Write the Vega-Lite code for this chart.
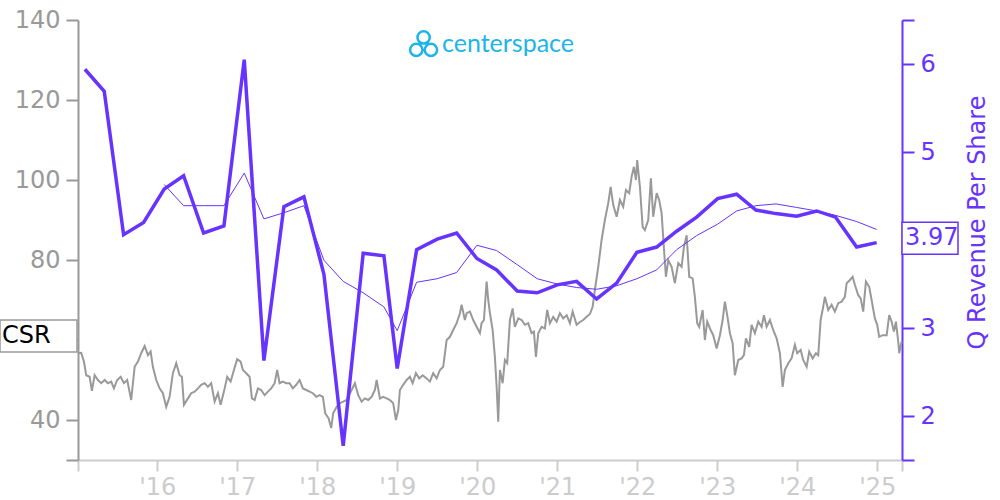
{
  "$schema": "https://vega.github.io/schema/vega-lite/v6.json",
  "width": 824,
  "height": 440,
  "autosize": {"type": "none"},
  "padding": {"left": 78, "top": 20, "right": 98, "bottom": 40},
  "config": {"view": {"stroke": null}, "font": "DejaVu Sans"},
  "datasets": {
    "price": [
      {"t":2015.009,"p":56.7},{"t":2015.050,"p":56.8},{"t":2015.084,"p":54.6},{"t":2015.113,"p":51.2},{"t":2015.155,"p":50.8},{"t":2015.184,"p":47.3},{"t":2015.218,"p":51.2},{"t":2015.259,"p":50.0},{"t":2015.300,"p":49.2},{"t":2015.343,"p":50.0},{"t":2015.384,"p":49.2},{"t":2015.425,"p":49.6},{"t":2015.459,"p":47.9},{"t":2015.500,"p":50.0},{"t":2015.543,"p":50.8},{"t":2015.584,"p":49.2},{"t":2015.625,"p":50.0},{"t":2015.675,"p":45.0},{"t":2015.718,"p":53.3},{"t":2015.759,"p":54.6},{"t":2015.800,"p":56.7},{"t":2015.843,"p":58.5},{"t":2015.884,"p":56.2},{"t":2015.918,"p":57.1},{"t":2015.946,"p":53.3},{"t":2015.988,"p":50.0},
      {"t":2016.030,"p":47.9},{"t":2016.071,"p":46.7},{"t":2016.113,"p":43.3},{"t":2016.155,"p":45.8},{"t":2016.196,"p":51.7},{"t":2016.238,"p":54.2},{"t":2016.280,"p":51.2},{"t":2016.309,"p":50.8},{"t":2016.334,"p":43.8},{"t":2016.384,"p":45.4},{"t":2016.425,"p":46.7},{"t":2016.468,"p":47.1},{"t":2016.509,"p":47.9},{"t":2016.550,"p":48.8},{"t":2016.593,"p":49.2},{"t":2016.634,"p":48.3},{"t":2016.675,"p":49.2},{"t":2016.718,"p":44.6},{"t":2016.759,"p":46.7},{"t":2016.793,"p":43.8},{"t":2016.834,"p":47.1},{"t":2016.875,"p":50.8},{"t":2016.918,"p":49.6},{"t":2016.959,"p":52.5},
      {"t":2017.000,"p":55.2},{"t":2017.043,"p":54.6},{"t":2017.071,"p":52.5},{"t":2017.113,"p":51.7},{"t":2017.155,"p":50.8},{"t":2017.184,"p":45.4},{"t":2017.218,"p":45.0},{"t":2017.259,"p":47.9},{"t":2017.300,"p":47.5},{"t":2017.343,"p":46.2},{"t":2017.384,"p":47.1},{"t":2017.425,"p":47.9},{"t":2017.468,"p":49.2},{"t":2017.500,"p":52.5},{"t":2017.530,"p":49.2},{"t":2017.571,"p":49.6},{"t":2017.613,"p":49.2},{"t":2017.655,"p":49.2},{"t":2017.696,"p":47.9},{"t":2017.738,"p":48.8},{"t":2017.780,"p":50.0},{"t":2017.821,"p":47.9},{"t":2017.863,"p":47.5},{"t":2017.905,"p":47.1},{"t":2017.946,"p":46.7},{"t":2017.988,"p":45.8},
      {"t":2018.030,"p":46.2},{"t":2018.071,"p":45.8},{"t":2018.100,"p":41.7},{"t":2018.143,"p":40.4},{"t":2018.175,"p":38.0},{"t":2018.200,"p":41.7},{"t":2018.243,"p":43.3},{"t":2018.284,"p":44.2},{"t":2018.325,"p":44.6},{"t":2018.368,"p":45.0},{"t":2018.409,"p":46.7},{"t":2018.450,"p":48.3},{"t":2018.471,"p":49.2},{"t":2018.513,"p":46.2},{"t":2018.555,"p":44.6},{"t":2018.596,"p":45.4},{"t":2018.638,"p":45.0},{"t":2018.680,"p":45.8},{"t":2018.721,"p":47.5},{"t":2018.743,"p":50.0},{"t":2018.784,"p":45.4},{"t":2018.825,"p":45.8},{"t":2018.868,"p":45.4},{"t":2018.909,"p":45.0},{"t":2018.950,"p":44.2},{"t":2018.984,"p":40.0},
      {"t":2019.013,"p":42.5},{"t":2019.034,"p":47.5},{"t":2019.075,"p":48.8},{"t":2019.118,"p":50.0},{"t":2019.159,"p":50.8},{"t":2019.193,"p":49.2},{"t":2019.234,"p":51.7},{"t":2019.275,"p":50.4},{"t":2019.318,"p":51.2},{"t":2019.368,"p":50.4},{"t":2019.409,"p":49.6},{"t":2019.450,"p":51.7},{"t":2019.493,"p":50.4},{"t":2019.534,"p":52.5},{"t":2019.575,"p":53.3},{"t":2019.618,"p":60.0},{"t":2019.659,"p":60.8},{"t":2019.700,"p":62.5},{"t":2019.743,"p":64.2},{"t":2019.784,"p":66.7},{"t":2019.805,"p":68.8},{"t":2019.846,"p":65.0},{"t":2019.868,"p":66.7},{"t":2019.909,"p":67.1},{"t":2019.950,"p":65.0},{"t":2019.993,"p":63.3},
      {"t":2020.034,"p":61.7},{"t":2020.055,"p":64.2},{"t":2020.084,"p":65.0},{"t":2020.118,"p":74.6},{"t":2020.138,"p":70.0},{"t":2020.159,"p":66.7},{"t":2020.193,"p":62.5},{"t":2020.221,"p":55.8},{"t":2020.243,"p":48.3},{"t":2020.263,"p":39.6},{"t":2020.284,"p":52.5},{"t":2020.318,"p":49.2},{"t":2020.346,"p":55.0},{"t":2020.375,"p":54.2},{"t":2020.409,"p":65.0},{"t":2020.443,"p":67.9},{"t":2020.471,"p":63.3},{"t":2020.513,"p":65.4},{"t":2020.555,"p":65.0},{"t":2020.596,"p":63.8},{"t":2020.638,"p":64.2},{"t":2020.680,"p":61.7},{"t":2020.709,"p":62.1},{"t":2020.734,"p":55.8},{"t":2020.763,"p":61.7},{"t":2020.805,"p":63.3},{"t":2020.846,"p":62.9},{"t":2020.875,"p":67.5},{"t":2020.909,"p":64.2},{"t":2020.950,"p":65.8},{"t":2020.993,"p":64.6},
      {"t":2021.034,"p":66.7},{"t":2021.075,"p":65.4},{"t":2021.118,"p":66.2},{"t":2021.159,"p":64.2},{"t":2021.193,"p":67.1},{"t":2021.243,"p":63.8},{"t":2021.284,"p":64.5},{"t":2021.325,"p":65.0},{"t":2021.368,"p":65.8},{"t":2021.409,"p":66.5},{"t":2021.443,"p":68.3},{"t":2021.471,"p":72.5},{"t":2021.513,"p":78.3},{"t":2021.555,"p":85.0},{"t":2021.596,"p":90.0},{"t":2021.638,"p":94.2},{"t":2021.668,"p":98.3},{"t":2021.700,"p":93.8},{"t":2021.743,"p":90.8},{"t":2021.784,"p":95.0},{"t":2021.825,"p":93.3},{"t":2021.859,"p":97.5},{"t":2021.900,"p":96.7},{"t":2021.930,"p":100.8},{"t":2021.959,"p":103.3},{"t":2021.984,"p":100.0},
      {"t":2022.000,"p":105.0},{"t":2022.034,"p":98.3},{"t":2022.068,"p":88.3},{"t":2022.096,"p":87.5},{"t":2022.138,"p":90.0},{"t":2022.171,"p":100.4},{"t":2022.200,"p":90.8},{"t":2022.243,"p":96.7},{"t":2022.275,"p":95.0},{"t":2022.305,"p":91.7},{"t":2022.334,"p":82.9},{"t":2022.359,"p":75.8},{"t":2022.388,"p":80.0},{"t":2022.430,"p":78.3},{"t":2022.471,"p":74.2},{"t":2022.513,"p":79.2},{"t":2022.555,"p":78.3},{"t":2022.584,"p":83.3},{"t":2022.618,"p":86.2},{"t":2022.650,"p":75.8},{"t":2022.693,"p":75.4},{"t":2022.721,"p":70.8},{"t":2022.750,"p":64.2},{"t":2022.775,"p":63.3},{"t":2022.818,"p":67.5},{"t":2022.846,"p":60.0},{"t":2022.875,"p":64.6},{"t":2022.918,"p":62.5},{"t":2022.950,"p":61.2},{"t":2022.993,"p":57.9},
      {"t":2023.034,"p":61.2},{"t":2023.068,"p":65.0},{"t":2023.096,"p":69.6},{"t":2023.125,"p":66.2},{"t":2023.159,"p":61.7},{"t":2023.193,"p":59.2},{"t":2023.221,"p":51.2},{"t":2023.263,"p":55.0},{"t":2023.305,"p":55.4},{"t":2023.334,"p":56.2},{"t":2023.359,"p":60.4},{"t":2023.400,"p":58.3},{"t":2023.430,"p":63.8},{"t":2023.471,"p":61.7},{"t":2023.513,"p":64.6},{"t":2023.555,"p":63.3},{"t":2023.584,"p":66.2},{"t":2023.618,"p":63.3},{"t":2023.659,"p":65.0},{"t":2023.700,"p":62.5},{"t":2023.743,"p":60.4},{"t":2023.784,"p":56.7},{"t":2023.818,"p":48.3},{"t":2023.846,"p":52.5},{"t":2023.888,"p":54.2},{"t":2023.930,"p":55.4},{"t":2023.971,"p":58.8},
      {"t":2024.000,"p":56.7},{"t":2024.043,"p":57.5},{"t":2024.075,"p":55.0},{"t":2024.118,"p":53.3},{"t":2024.150,"p":57.1},{"t":2024.193,"p":55.4},{"t":2024.234,"p":56.7},{"t":2024.263,"p":56.2},{"t":2024.293,"p":65.0},{"t":2024.325,"p":68.3},{"t":2024.346,"p":70.8},{"t":2024.388,"p":67.5},{"t":2024.430,"p":68.8},{"t":2024.471,"p":67.1},{"t":2024.513,"p":69.2},{"t":2024.555,"p":69.6},{"t":2024.596,"p":70.8},{"t":2024.618,"p":74.2},{"t":2024.659,"p":75.0},{"t":2024.693,"p":75.8},{"t":2024.721,"p":73.8},{"t":2024.763,"p":71.2},{"t":2024.793,"p":70.4},{"t":2024.825,"p":67.1},{"t":2024.859,"p":74.6},{"t":2024.900,"p":73.3},{"t":2024.930,"p":70.0},{"t":2024.971,"p":65.4},
      {"t":2025.000,"p":63.8},{"t":2025.025,"p":60.8},{"t":2025.068,"p":61.2},{"t":2025.118,"p":61.2},{"t":2025.150,"p":66.2},{"t":2025.180,"p":64.6},{"t":2025.209,"p":62.1},{"t":2025.234,"p":64.6},{"t":2025.263,"p":59.6},{"t":2025.275,"p":56.7},{"t":2025.305,"p":59.6}
    ],
    "quarterly": [
      {"t":2015.096,"v":5.94},{"t":2015.338,"v":5.69},{"t":2015.580,"v":4.06},{"t":2015.830,"v":4.20},{"t":2016.088,"v":4.58},{"t":2016.330,"v":4.73},{"t":2016.580,"v":4.08},{"t":2016.834,"v":4.16},{"t":2017.088,"v":6.05},{"t":2017.334,"v":2.63},{"t":2017.584,"v":4.38},{"t":2017.834,"v":4.49},{"t":2018.084,"v":3.61},{"t":2018.325,"v":1.66},{"t":2018.575,"v":3.85},{"t":2018.834,"v":3.82},{"t":2019.000,"v":2.54},{"t":2019.243,"v":3.89},{"t":2019.500,"v":4.01},{"t":2019.743,"v":4.08},{"t":2019.996,"v":3.79},{"t":2020.243,"v":3.66},{"t":2020.500,"v":3.42},{"t":2020.750,"v":3.40},{"t":2021.000,"v":3.49},{"t":2021.243,"v":3.53},{"t":2021.493,"v":3.33},{"t":2021.743,"v":3.51},{"t":2021.996,"v":3.86},{"t":2022.243,"v":3.92},{"t":2022.493,"v":4.10},{"t":2022.743,"v":4.26},{"t":2023.005,"v":4.47},{"t":2023.243,"v":4.52},{"t":2023.484,"v":4.34},{"t":2023.734,"v":4.30},{"t":2023.993,"v":4.27},{"t":2024.243,"v":4.33},{"t":2024.480,"v":4.26},{"t":2024.743,"v":3.92},{"t":2024.993,"v":3.97}
    ],
    "trailing": [
      {"t":2016.088,"v":4.63},{"t":2016.330,"v":4.39},{"t":2016.580,"v":4.39},{"t":2016.834,"v":4.39},{"t":2017.088,"v":4.76},{"t":2017.334,"v":4.24},{"t":2017.584,"v":4.31},{"t":2017.834,"v":4.39},{"t":2018.084,"v":3.77},{"t":2018.325,"v":3.53},{"t":2018.575,"v":3.40},{"t":2018.834,"v":3.24},{"t":2019.000,"v":2.97},{"t":2019.243,"v":3.52},{"t":2019.500,"v":3.56},{"t":2019.743,"v":3.63},{"t":2019.996,"v":3.94},{"t":2020.243,"v":3.88},{"t":2020.500,"v":3.72},{"t":2020.750,"v":3.56},{"t":2021.000,"v":3.50},{"t":2021.243,"v":3.46},{"t":2021.493,"v":3.44},{"t":2021.743,"v":3.48},{"t":2021.996,"v":3.56},{"t":2022.243,"v":3.66},{"t":2022.493,"v":3.89},{"t":2022.743,"v":4.05},{"t":2023.005,"v":4.18},{"t":2023.243,"v":4.33},{"t":2023.484,"v":4.39},{"t":2023.734,"v":4.41},{"t":2023.993,"v":4.37},{"t":2024.243,"v":4.33},{"t":2024.480,"v":4.28},{"t":2024.743,"v":4.21},{"t":2024.993,"v":4.12}
    ]
  },
  "layer": [
    {
      "layer": [
        {
          "data": {"name": "price"},
          "mark": {"type": "line", "color": "#999999", "strokeWidth": 2},
          "encoding": {
            "x": {
              "field": "t", "type": "quantitative",
              "scale": {"domain": [2015.01, 2025.31], "nice": false, "zero": false},
              "axis": {
                "values": [2015.01, 2016, 2017, 2018, 2019, 2020, 2021, 2022, 2023, 2024, 2025, 2025.31],
                "labelExpr": "datum.value < 2015.5 || datum.value > 2025.2 ? '' : \"'\" + slice(format(datum.value, 'd'), 2)",
                "title": null, "grid": false, "labelOverlap": false,
                "domainColor": "#cccccc", "tickColor": "#cccccc", "labelColor": "#cccccc",
                "labelFontSize": 24, "tickSize": 11, "domainWidth": 2, "tickWidth": 2, "labelPadding": 4
              }
            },
            "y": {
              "field": "p", "type": "quantitative",
              "scale": {"domain": [30, 140], "nice": false, "zero": false},
              "axis": {
                "orient": "left",
                "values": [30, 40, 60, 80, 100, 120, 140],
                "labelExpr": "datum.value == 30 || datum.value == 60 ? '' : format(datum.value, 'd')",
                "title": null, "grid": false, "labelOverlap": false,
                "domainColor": "#999999", "tickColor": "#999999", "labelColor": "#999999",
                "labelFontSize": 24, "tickSize": 12, "domainWidth": 2, "tickWidth": 2, "labelPadding": 6
              }
            }
          }
        },
        {
          "data": {"values": [{}]},
          "mark": {"type": "point", "shape": "M-1,-0.4156L1,-0.4156L1,0.4156L-1,0.4156Z", "size": 5929, "filled": true, "fill": "white", "stroke": "#999999", "strokeWidth": 1.5, "opacity": 1, "xOffset": -39.5},
          "encoding": {
            "x": {"datum": 2015.01, "type": "quantitative"},
            "y": {"datum": 61, "type": "quantitative"}
          }
        },
        {
          "data": {"values": [{}]},
          "mark": {"type": "text", "text": "CSR", "align": "left", "baseline": "middle", "dx": -76, "fontSize": 24, "color": "#000000"},
          "encoding": {
            "x": {"datum": 2015.01, "type": "quantitative"},
            "y": {"datum": 61, "type": "quantitative"}
          }
        },
        {
          "data": {"values": [{}]},
          "mark": {"type": "point", "shape": "M-0.42,-0.45a0.42,0.42 0 1,0 0.84,0a0.42,0.42 0 1,0 -0.84,0M-0.92,0.4a0.42,0.42 0 1,0 0.84,0a0.42,0.42 0 1,0 -0.84,0M0.08,0.4a0.42,0.42 0 1,0 0.84,0a0.42,0.42 0 1,0 -0.84,0", "size": 860, "filled": false, "stroke": "#1cb5ea", "strokeWidth": 2.5, "opacity": 1},
          "encoding": {
            "x": {"datum": 2019.33, "type": "quantitative"},
            "y": {"datum": 134, "type": "quantitative"}
          }
        },
        {
          "data": {"values": [{}]},
          "mark": {"type": "text", "text": "centerspace", "align": "left", "baseline": "middle", "font": "Lato", "fontSize": 25, "color": "#1cb5ea"},
          "encoding": {
            "x": {"datum": 2019.56, "type": "quantitative"},
            "y": {"datum": 134, "type": "quantitative"}
          }
        }
      ]
    },
    {
      "layer": [
        {
          "data": {"name": "trailing"},
          "mark": {"type": "line", "color": "#6633ff", "strokeWidth": 1},
          "encoding": {
            "x": {"field": "t", "type": "quantitative"},
            "y": {
              "field": "v", "type": "quantitative",
              "scale": {"domain": [1.5, 6.5], "nice": false, "zero": false},
              "axis": {
                "orient": "right",
                "values": [1.5, 2, 3, 4, 5, 6, 6.5],
                "labelExpr": "datum.value == 1.5 || datum.value == 6.5 || datum.value == 4 ? '' : format(datum.value, 'd')",
                "title": "Q Revenue Per Share", "titleColor": "#6633ff", "titleFontSize": 24, "titleFontWeight": "normal", "titleAngle": 270, "titleBaseline": "top", "titlePadding": 30, "titleY": 202,
                "grid": false, "labelOverlap": false,
                "domainColor": "#6633ff", "tickColor": "#6633ff", "labelColor": "#6633ff",
                "labelFontSize": 24, "tickSize": 12, "domainWidth": 2, "tickWidth": 2, "labelPadding": 6
              }
            }
          }
        },
        {
          "data": {"name": "quarterly"},
          "mark": {"type": "line", "color": "#6633ff", "strokeWidth": 3.5},
          "encoding": {
            "x": {"field": "t", "type": "quantitative"},
            "y": {"field": "v", "type": "quantitative"}
          }
        },
        {
          "data": {"values": [{}]},
          "mark": {"type": "point", "shape": "M-1,-0.5714L1,-0.5714L1,0.5714L-1,0.5714Z", "size": 3136, "filled": true, "fill": "white", "stroke": "#6633ff", "strokeWidth": 1.5, "opacity": 1, "xOffset": 28},
          "encoding": {
            "x": {"datum": 2025.31, "type": "quantitative"},
            "y": {"datum": 4.02, "type": "quantitative"}
          }
        },
        {
          "data": {"values": [{}]},
          "mark": {"type": "text", "text": "3.97", "align": "left", "baseline": "middle", "dx": 3, "fontSize": 24, "color": "#6633ff"},
          "encoding": {
            "x": {"datum": 2025.31, "type": "quantitative"},
            "y": {"datum": 4.02, "type": "quantitative"}
          }
        }
      ]
    }
  ],
  "resolve": {"scale": {"y": "independent"}}
}
